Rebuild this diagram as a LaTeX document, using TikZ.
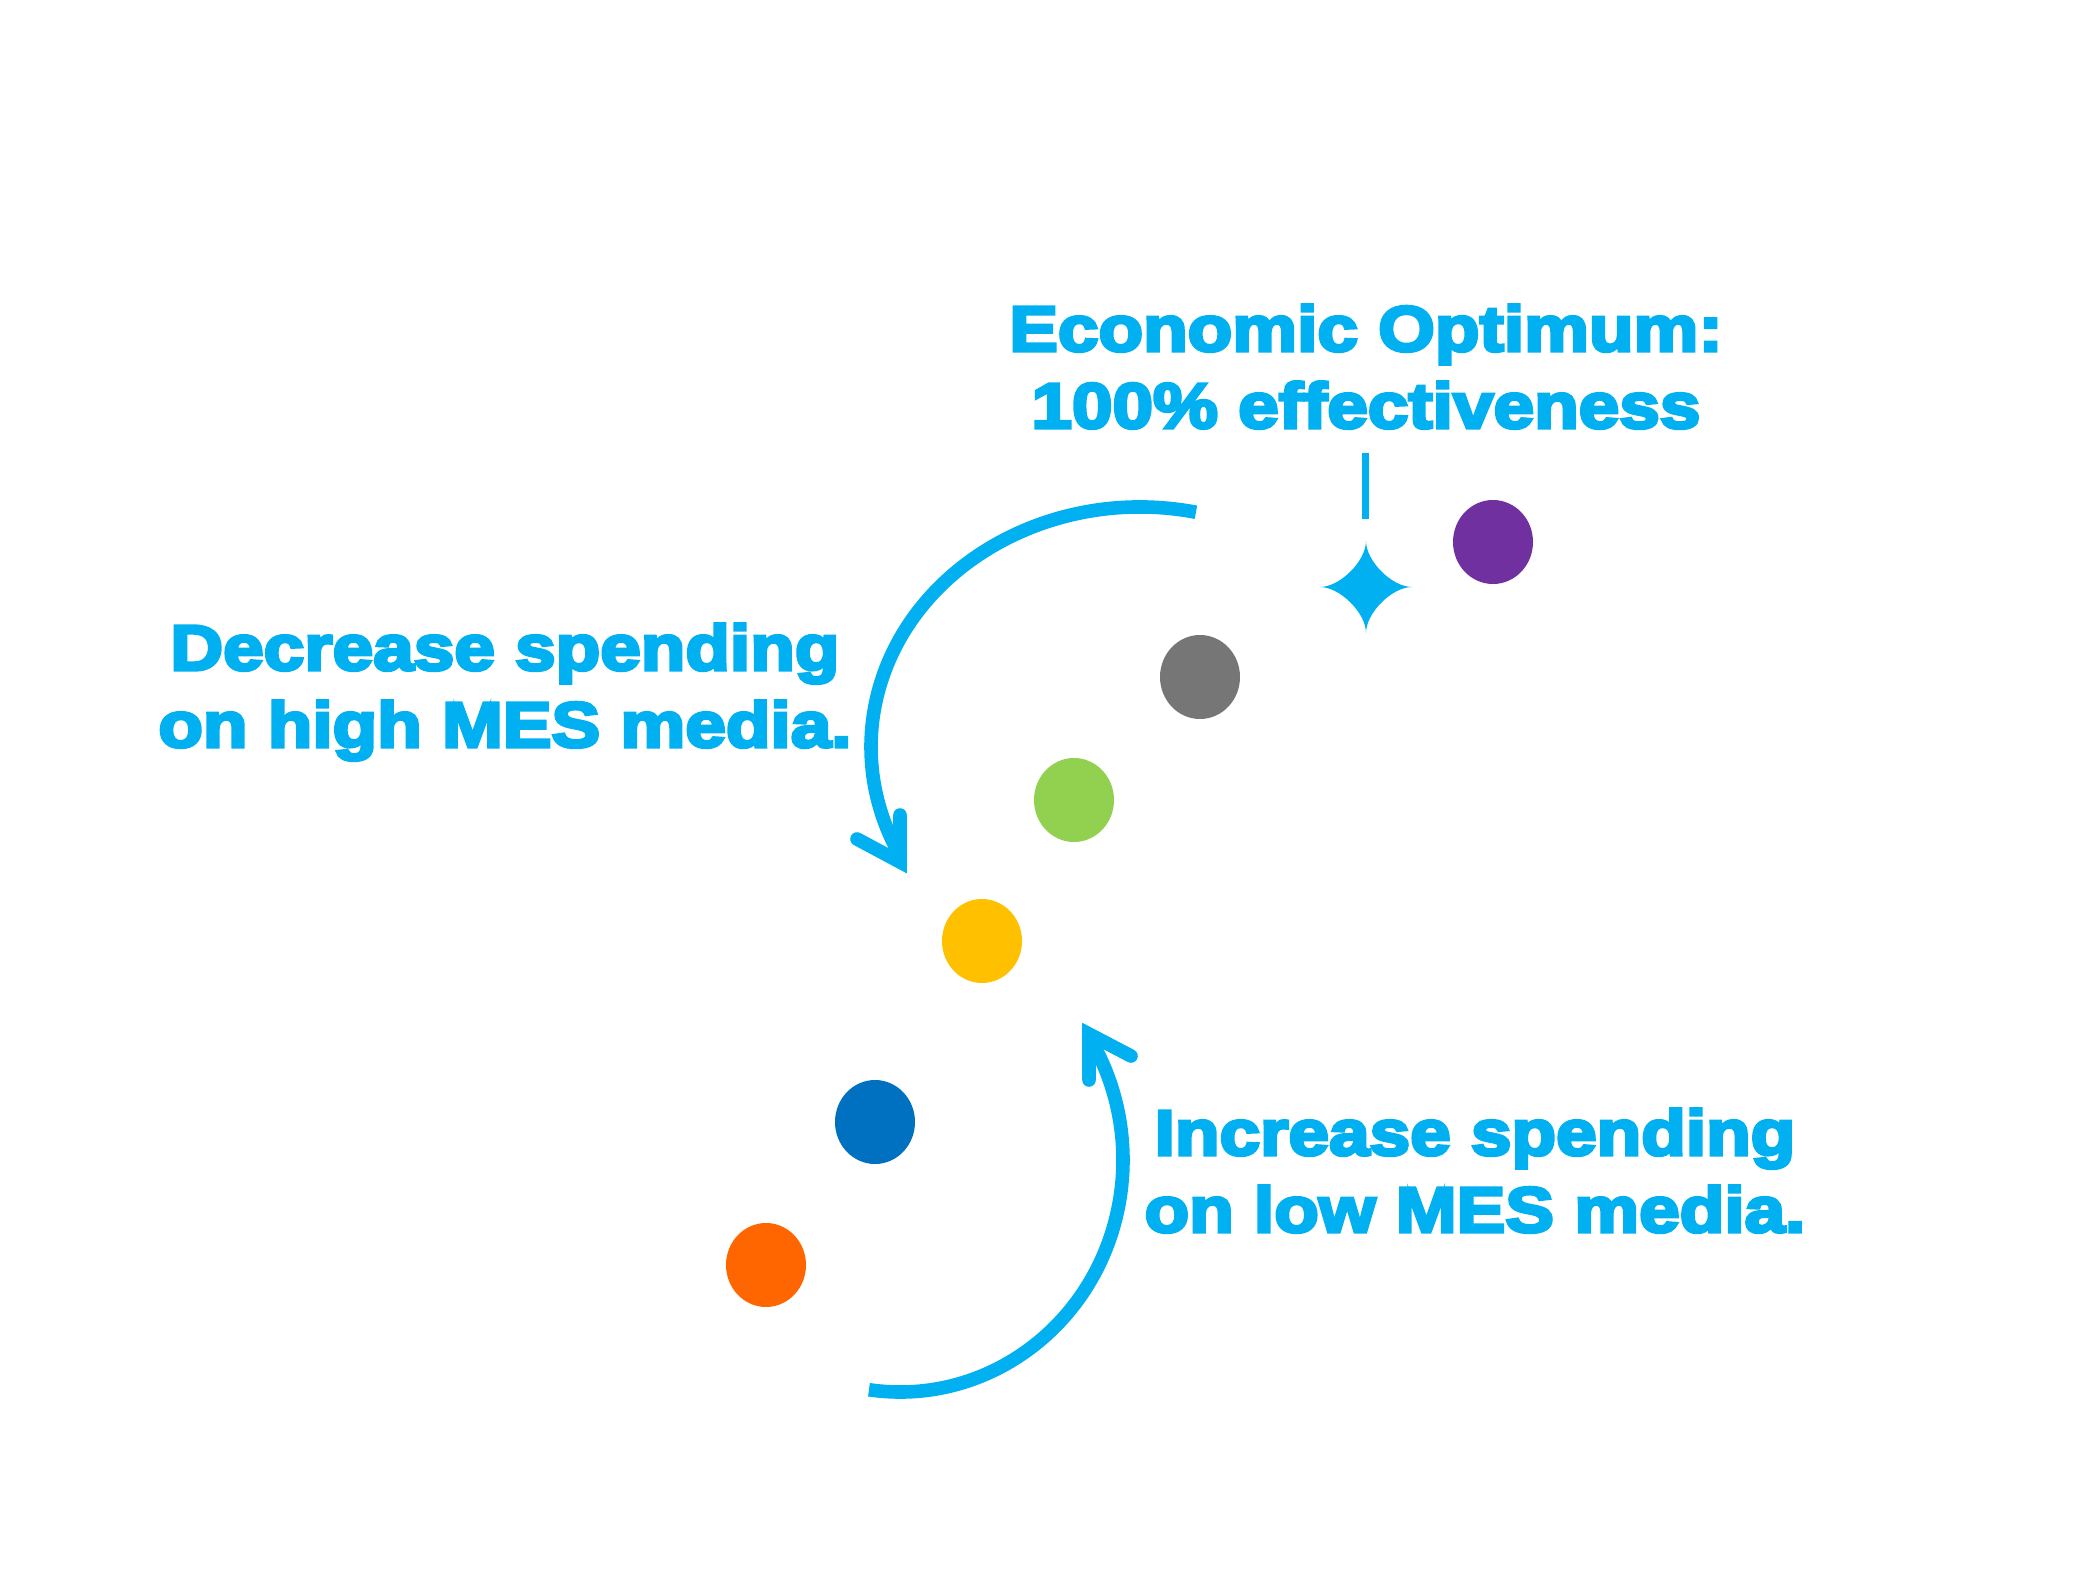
\documentclass[tikz,border=0pt]{standalone}
\usepackage{fontspec}
\usetikzlibrary{shapes.geometric}
\newfontfamily\lblfont{Liberation Sans}[FakeStretch=1.14,FakeBold=5]
\definecolor{cy}{HTML}{00B0F0}
\definecolor{dpurple}{HTML}{7030A0}
\definecolor{dgray}{HTML}{767676}
\definecolor{dgreen}{HTML}{92D050}
\definecolor{dyellow}{HTML}{FFC000}
\definecolor{dblue}{HTML}{0070C0}
\definecolor{dorange}{HTML}{FF6600}
\begin{document}
\begin{tikzpicture}[x=0.5pt,y=-0.5pt,
  lbl/.style={text=cy, font=\lblfont\bfseries\fontsize{32}{38}\selectfont, inner sep=0pt, anchor=base},
  dot/.style={ellipse, minimum width=40pt, minimum height=42pt, inner sep=0pt, draw=none},
  arcline/.style={draw=cy, line width=6.8pt},
  wing/.style={draw=cy, line width=6.8pt, line cap=round, line join=miter, miter limit=10}]
\fill[white] (0,0) rectangle (2084,1578);
\useasboundingbox (0,0) rectangle (2084,1578);

% labels
\node[lbl] (eco1) at (1366,351) {Economic Optimum:};
\node[lbl] (eco2) at (1366,428) {100\% effectiveness};
\node[lbl] (dec1) at (505,670) {Decrease spending};
\node[lbl] (dec2) at (505,747) {on high MES media.};
\node[lbl] (inc1) at (1475,1155) {Increase spending};
\node[lbl] (inc2) at (1475,1232) {on low MES media.};

% dots
\node[dot, fill=dpurple] (purple) at (1493,542) {};
\node[dot, fill=dgray]   (gray)   at (1200,677) {};
\node[dot, fill=dgreen]  (green)  at (1074,800) {};
\node[dot, fill=dyellow] (yellow) at (982,941) {};
\node[dot, fill=dblue]   (blue)   at (875,1122) {};
\node[dot, fill=dorange] (orange) at (766,1265) {};

% optimum marker
\coordinate (st) at (1366,587);
\coordinate (tickTop) at (1365.5,453);
\coordinate (tickBot) at (1365.5,519);
\draw[cy, line width=3.4pt] (tickTop) -- (tickBot);
\fill[cy] (1366,541) .. controls (1366,561) and (1340,587) .. (1320,587)
  .. controls (1340,587) and (1366,613) .. (1366,633)
  .. controls (1366,613) and (1392,587) .. (1412,587)
  .. controls (1392,587) and (1366,561) .. (1366,541) -- cycle;

% upper arrow (decrease)
\coordinate (upC) at (1140,747);
\draw[arcline] ([shift={(-78:269 and 240)}]upC) arc[start angle=-78, end angle=-207.5, x radius=269, y radius=240];
\coordinate (tipA) at (900,862);
\coordinate (wA1) at (900,815);
\coordinate (wA2) at (857,839);
\draw[wing] (wA1) -- (tipA) -- (wA2);

% lower arrow (increase)
\coordinate (loC) at (900,1160);
\draw[arcline] ([shift={(98:223 and 232)}]loC) arc[start angle=98, end angle=-32, x radius=223, y radius=232];
\coordinate (tipB) at (1089,1034);
\coordinate (wB1) at (1089,1080);
\coordinate (wB2) at (1131,1056);
\draw[wing] (wB1) -- (tipB) -- (wB2);
\end{tikzpicture}
\end{document}
